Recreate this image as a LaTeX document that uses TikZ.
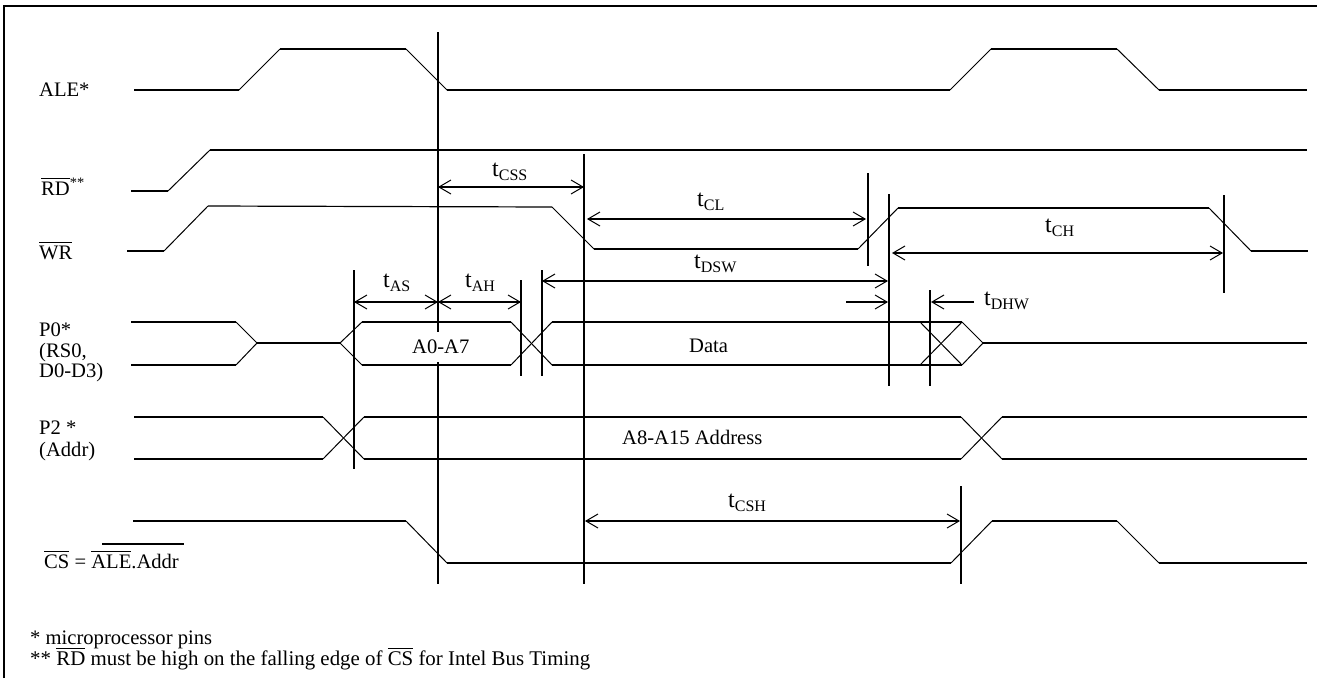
\documentclass[tikz,border=0pt]{standalone}
\usepackage{amsmath}
\usepackage{fontspec}
\setmainfont{Liberation Serif}
\usepackage{tikz}
\usetikzlibrary{arrows.meta}

\newcommand{\barred}[1]{$\overline{\mbox{#1}}$}
\newcommand{\tlab}[1]{{\fontsize{24}{24}\selectfont t}\raisebox{-4.4pt}{\fontsize{16}{16}\selectfont #1}}

\tikzset{
	level/.style={line width=2pt},
	slope/.style={line width=1pt},
	marker/.style={line width=1.7pt},
	timearrow/.style={line width=1.7pt,{Straight Barb[length=12pt,width=14pt,line width=1pt]}-{Straight Barb[length=12pt,width=14pt,line width=1pt]}},
	halfarrow/.style={line width=1.7pt,-{Straight Barb[length=12pt,width=14pt,line width=1pt]}},
	txt/.style={anchor=base west,inner sep=0pt,font=\fontsize{20.6}{24}\selectfont},
	notetxt/.style={txt,font=\fontsize{20.9}{24}\selectfont}
}

\begin{document}
\begin{tikzpicture}[x=1pt,y=-1pt]
	\useasboundingbox (0,0) rectangle (1317,678);
	% frame, only top and left are visible
	\draw[line width=2.4pt] (4,678) -- (4,6) -- (1317,6);

	% flat parts of the signals
	\foreach \xa/\xb/\y in {134/239/90,280/406/49,447/950/90,991/1117/49,1159/1307/90,
		131/168/191,210/1307/150,
		127/164/251,594/858/249,898/1209/208,1251/1308/251,
		131/236/322,131/236/365,257/340/343,362/511/322,362/511/365,552/962/322,552/962/365,983/1307/343,
		134/323/417,134/323/459,364/961/417,364/961/459,1002/1307/417,1002/1307/459,
		133/406/521,447/951/563,992/1117/521,1159/1307/563}
	{ \draw[level] (\xa,\y) -- (\xb,\y);
	}
	\draw[line width=1.2pt] (208,206) -- (552,207);

	% edges
	\foreach \xa/\ya/\xb/\yb in {239/90/280/49,406/49/447/90,950/90/991/49,1117/49/1159/90,
		168/191/210/150,
		164/251/208/206,552/207/594/249,858/249/898/208,1209/208/1251/251,
		236/322/257/343,236/365/257/343,340/343/362/322,340/343/362/365,
		511/322/552/365,511/365/552/322,
		920/322/962/365,920/365/962/322,962/322/983/343,962/365/983/343,
		323/417/364/459,323/459/364/417,961/417/1002/459,961/459/1002/417,
		406/521/447/563,951/563/992/521,1117/521/1159/563}
	{ \draw[slope] (\xa,\ya) -- (\xb,\yb);
	}

	% timing marks
	\foreach \x/\ya/\yb in {438/32/332,438/362/584,584/154/584,354/270/469,521/280/376,542/270/376,
		868/173/266,889/194/386,930/290/386,1224/195/293,961/486/584}
	{ \draw[marker] (\x,\ya) -- (\x,\yb);
	}

	% intervals
	\coordinate (cssa) at (438,187);
	\coordinate (cssb) at (584,187);
	\coordinate (asa) at (354,302);
	\coordinate (asb) at (438,302);
	\coordinate (aha) at (438,302);
	\coordinate (ahb) at (521,302);
	\coordinate (cla) at (587,219);
	\coordinate (clb) at (866,219);
	\coordinate (cha) at (892,253);
	\coordinate (chb) at (1223,253);
	\coordinate (dswa) at (542,281);
	\coordinate (dswb) at (888,281);
	\coordinate (dhwa) at (846,302);
	\coordinate (dhwb) at (888,302);
	\coordinate (dhwc) at (974,302);
	\coordinate (dhwd) at (931,302);
	\coordinate (csha) at (585,521);
	\coordinate (cshb) at (960,521);
	\draw[timearrow] (cssa) -- (cssb);
	\draw[timearrow] (asa) -- (asb);
	\draw[timearrow] (aha) -- (ahb);
	\draw[timearrow] (cla) -- (clb);
	\draw[timearrow] (cha) -- (chb);
	\draw[timearrow] (dswa) -- (dswb);
	\draw[halfarrow] (dhwa) -- (dhwb);
	\draw[halfarrow] (dhwc) -- (dhwd);
	\draw[timearrow] (csha) -- (cshb);

	% signal names
	\node[txt] (ale) at (39,96.5) {ALE*};
	\node[txt] (rd) at (41,195) {\barred{RD}\textsuperscript{**}};
	\node[txt] (wr) at (39,259) {\barred{WR}};
	\node[txt] (pzero) at (39,336) {P0*};
	\node[txt] (rs) at (39,357) {(RS0,};
	\node[txt] (dz) at (39,377) {D0-D3)};
	\node[txt] (ptwo) at (39,434) {P2 *};
	\node[txt] (addr) at (39,456) {(Addr)};
	\node[txt] (cs) at (44,568) {\barred{CS} = \barred{ALE}.Addr};
	\draw[marker] (102,544) -- (184,544);

	% labels on the buses
	\node[txt] (alow) at (412,353) {A0-A7};
	\node[txt] (data) at (689,352) {Data};
	\node[txt] (ahigh) at (622,444) {A8-A15 Address};

	% interval names
	\node[txt] (tcss) at (492,176) {\tlab{CSS}};
	\node[txt] (tas) at (383,287) {\tlab{AS}};
	\node[txt] (tah) at (465,287) {\tlab{AH}};
	\node[txt] (tcl) at (697,206) {\tlab{CL}};
	\node[txt] (tch) at (1045,232) {\tlab{CH}};
	\node[txt] (tdsw) at (694,268) {\tlab{DSW}};
	\node[txt] (tdhw) at (984,305) {\tlab{DHW}};
	\node[txt] (tcsh) at (728,507) {\tlab{CSH}};

	% notes
	\node[txt] (noteone) at (30,644) {* microprocessor pins};
	\node[notetxt] (notetwo) at (30,665) {** \barred{RD} must be high on the falling edge of \barred{CS} for Intel Bus Timing};
\end{tikzpicture}
\end{document}
